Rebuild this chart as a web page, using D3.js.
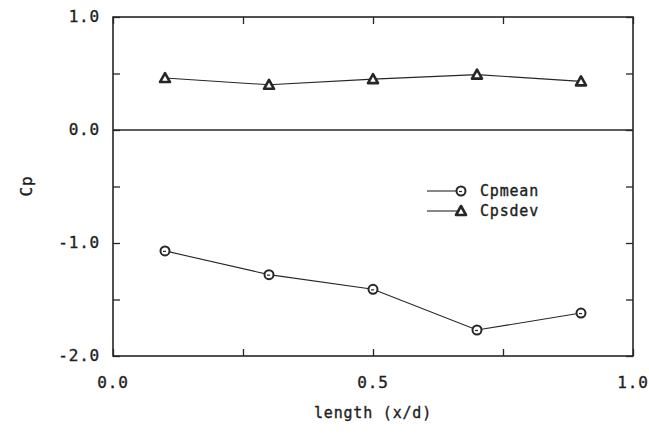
<!DOCTYPE html>
<html>
<head>
<meta charset="utf-8">
<script src="https://cdn.jsdelivr.net/npm/d3@7"></script>
<style>
  body { margin: 0; background: #fff; }
  text { font-family: "DejaVu Sans Mono", "Liberation Mono", monospace; fill: #1e1e1e; stroke: #1e1e1e; stroke-width: 0.35px; letter-spacing: 0.8px; }
</style>
</head>
<body>
<div id="chart"></div>
<script>
// data
const xPos = [0.1, 0.3, 0.5, 0.7, 0.9];
const cpMean = [-1.07, -1.28, -1.41, -1.77, -1.62];
const cpSdev = [0.46, 0.40, 0.45, 0.49, 0.43];
const xTicks = [0.0, 0.5, 1.0];
const yTicks = [1.0, 0.0, -1.0, -2.0];

const W = 649, H = 441;
const margin = { top: 17, right: 16, bottom: 85, left: 113 };
const innerW = W - margin.left - margin.right,
    innerH = H - margin.top - margin.bottom;

var svg = d3.select("#chart").append("svg")
    .attr("width", W).attr("height", H);
var g = svg.append("g")
    .attr("transform", "translate(" + margin.left + "," + margin.top + ")");

var x = d3.scaleLinear().domain([0, 1]).range([0, innerW]);
var y = d3.scaleLinear().domain([-2, 1]).range([innerH, 0]);

const ink = "#262626";

// frame
g.append("rect")
    .attr("width", innerW).attr("height", innerH)
    .attr("fill", "none").attr("stroke", ink).attr("stroke-width", 1.6);

// inward ticks on all four sides
const minorX = d3.range(0, 1.0001, 0.25);
const minorY = d3.range(-2, 1.0001, 0.5);
const tickLen = 7;
g.append("g").call(d3.axisBottom(x).tickValues(minorX).tickSize(-tickLen).tickFormat(""))
    .attr("transform", "translate(0," + innerH + ")");
g.append("g").call(d3.axisTop(x).tickValues(minorX).tickSize(-tickLen).tickFormat(""));
g.append("g").call(d3.axisLeft(y).tickValues(minorY).tickSize(-tickLen).tickFormat(""));
g.append("g").call(d3.axisRight(y).tickValues(minorY).tickSize(-tickLen).tickFormat(""))
    .attr("transform", "translate(" + innerW + ",0)");
g.selectAll(".domain").remove();
g.selectAll(".tick line").attr("stroke", ink).attr("stroke-width", 1.3);

// zero line
g.append("line")
    .attr("x1", 0).attr("x2", innerW)
    .attr("y1", y(0)).attr("y2", y(0))
    .attr("stroke", ink).attr("stroke-width", 1.3);

// tick labels
g.selectAll(".ylab").data(yTicks).enter().append("text")
    .attr("x", -13).attr("y", d => y(d) + 5)
    .attr("text-anchor", "end")
    .style("font-size", "16px")
    .text(d => d3.format(".1f")(d).replace("\u2212", "-"));
g.selectAll(".xlab").data(xTicks).enter().append("text")
    .attr("x", d => x(d)).attr("y", innerH + 32)
    .attr("text-anchor", "middle")
    .style("font-size", "16px")
    .text(d => d3.format(".1f")(d));

// axis titles
svg.append("text")
    .attr("x", margin.left + x(0.5)).attr("y", 418)
    .attr("text-anchor", "middle")
    .style("font-size", "15px")
    .text("length (x/d)");
svg.append("text")
    .attr("transform", "translate(32,186) rotate(-90)")
    .attr("text-anchor", "middle")
    .style("font-size", "16px")
    .text("Cp");

// series
var line = d3.line().x((d, i) => x(xPos[i])).y(d => y(d));
[cpMean, cpSdev].forEach(s => {
    g.append("path").datum(s)
        .attr("d", line)
        .attr("fill", "none").attr("stroke", ink).attr("stroke-width", 1.1);
});

function circleMark(sel, cx, cy) {
    sel.append("circle").attr("cx", cx).attr("cy", cy).attr("r", 4.5)
        .attr("fill", "#fff").attr("stroke", ink).attr("stroke-width", 2);
    sel.append("line").attr("x1", cx - 2).attr("x2", cx + 1)
        .attr("y1", cy + 0.5).attr("y2", cy + 0.5)
        .attr("stroke", ink).attr("stroke-width", 1.2);
}
function triMark(sel, cx, cy) {
    sel.append("path")
        .attr("d", "M" + cx + "," + (cy - 5) + "L" + (cx + 5) + "," + (cy + 4) + "L" + (cx - 5) + "," + (cy + 4) + "Z")
        .attr("fill", "#fff").attr("stroke", ink).attr("stroke-width", 2.6)
        .attr("stroke-linejoin", "round");
}

cpMean.forEach((d, i) => circleMark(g, x(xPos[i]), y(d)));
cpSdev.forEach((d, i) => triMark(g, x(xPos[i]), y(d)));

// legend
const legendItems = ["Cpmean", "Cpsdev"];
legendItems.forEach((name, i) => {
    const ly = 191 + i * 20;
    svg.append("line")
        .attr("x1", 427).attr("x2", 459).attr("y1", ly).attr("y2", ly)
        .attr("stroke", ink).attr("stroke-width", 1.1);
    if (i === 0) circleMark(svg, 461, ly);
    else triMark(svg, 461, ly);
    svg.append("text")
        .attr("x", 480).attr("y", ly + 5)
        .style("font-size", "15px")
        .text(name);
});
</script>
</body>
</html>
